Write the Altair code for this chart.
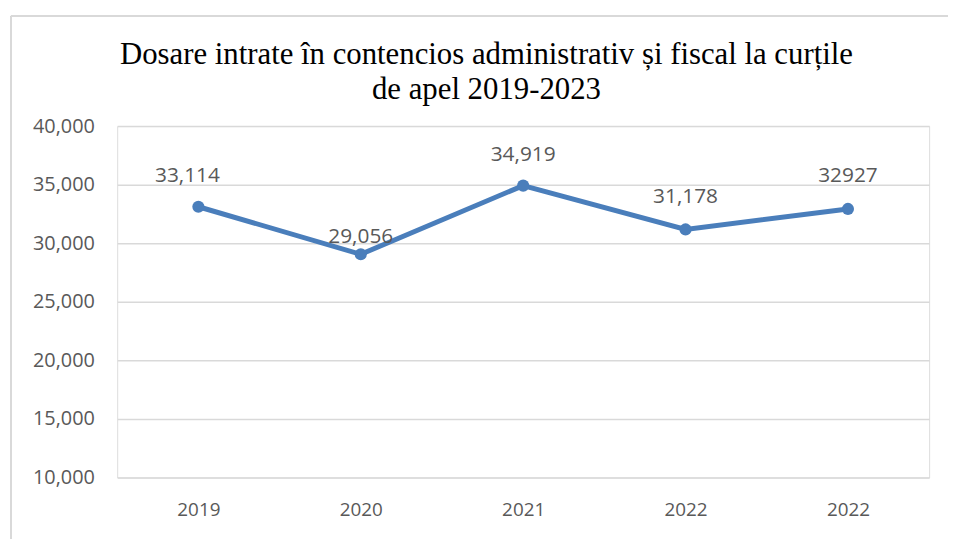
import altair as alt
import pandas as pd

years = ["2019", "2020", "2021", "2022", "2022"]
values = [33114, 29056, 34919, 31178, 32927]
value_labels = ["33,114", "29,056", "34,919", "31,178", "32927"]
label_dy = [-31, -17, -31, -33, -33]
label_dx = [-11, 0, 0, 0, 0]

df = pd.DataFrame({
    "idx": list(range(len(years))),
    "year": years,
    "value": values,
    "label": value_labels,
})

label_expr = "[" + ",".join(f"'{y}'" for y in years) + "][datum.value]"
FONT = "Open Sans"
GRAY = "#595959"
BLUE = "#4a7ebb"

x = alt.X("idx:O", scale=alt.Scale(paddingInner=0, paddingOuter=0),
          axis=alt.Axis(title=None, labelExpr=label_expr, labelAngle=0, domain=False,
                        ticks=False, labelPadding=23, labelFontSize=19,
                        labelColor=GRAY, labelFont=FONT, grid=False))
y = alt.Y("value:Q", scale=alt.Scale(domain=[10000, 40000], nice=False, zero=False),
          axis=alt.Axis(title=None, values=[10000, 15000, 20000, 25000, 30000, 35000, 40000],
                        format=",.0f", domain=False, ticks=False, labelPadding=23,
                        labelFontSize=20, labelColor=GRAY, labelFont=FONT,
                        gridColor="#d9d9d9", gridWidth=1.5))

base = alt.Chart(df)
line = base.mark_line(color=BLUE, strokeWidth=5).encode(x=x, y=y)
pts = base.mark_point(filled=True, color=BLUE, size=150, opacity=1).encode(x=x, y=y)

texts = []
for i in range(len(years)):
    texts.append(
        alt.Chart(df[df.idx == i]).mark_text(
            font=FONT, fontSize=21, color=GRAY, dy=label_dy[i], dx=label_dx[i]
        ).encode(x=x, y=y, text="label:N")
    )

border_left = alt.Chart(df).mark_rule(color="#d9d9d9", strokeWidth=2).encode(
    x=alt.value(-107), y=alt.value(-111), y2=alt.value(425))
border_top = alt.Chart(df).mark_rule(color="#d9d9d9", strokeWidth=2).encode(
    x=alt.value(-107), x2=alt.value(845), y=alt.value(-111))

chart = alt.layer(border_left, border_top, line, pts, *texts).properties(
    width=818, height=354,
    autosize=alt.AutoSizeParams(type="none"),
    padding={"left": 110, "top": 117, "right": 19, "bottom": 60},
    title=alt.TitleParams(
        text=["Dosare intrate în contencios administrativ și fiscal la curțile",
              "de apel 2019-2023"],
        font="Liberation Serif", fontSize=31, fontWeight="normal", color="#000000",
        lineHeight=36, anchor="middle", dx=-37, dy=106, offset=14,
    ),
).configure_view(stroke=None).configure(background="white")

chart.save("out.html", embed_options={"renderer": "svg", "actions": False})
